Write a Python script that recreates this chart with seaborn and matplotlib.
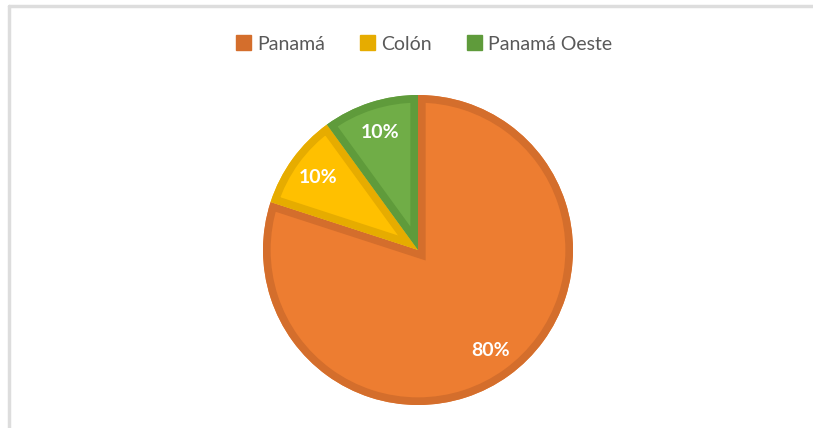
import matplotlib
matplotlib.use("Agg")
import matplotlib.pyplot as plt
import seaborn as sns
from matplotlib.patches import Patch, Wedge

# data
regiones = ["Panamá", "Colón", "Panamá Oeste"]
porcentajes = [80, 10, 10]
colores = ["#ED7D31", "#FFC000", "#70AD47"]
bordes = ["#D46E2C", "#E6AC00", "#5F9B3B"]

sns.set_theme(style="white")
plt.rcParams["font.family"] = ["Lato", "DejaVu Sans"]

W, H = 813, 428
fig = plt.figure(figsize=(W / 100, H / 100), dpi=100)

# pie centre / radius in pixels
cx, cy, R = 418, 250, 155
lim = 1.25
side = 2 * lim * R
ax = fig.add_axes([(cx - side / 2) / W, (H - cy - side / 2) / H, side / W, side / H])

wedges, texts, autotexts = ax.pie(
    porcentajes,
    colors=colores,
    startangle=90,
    counterclock=False,
    autopct="%1.0f%%",
    pctdistance=0.8,
    wedgeprops=dict(linewidth=0),
    textprops=dict(color="white", fontsize=14, fontweight="bold"),
)
# inner border: a thick outline clipped to each slice
for w, b in zip(wedges, bordes):
    edge = Wedge(w.center, w.r, w.theta1, w.theta2, facecolor="none",
                 edgecolor=b, linewidth=11, zorder=w.get_zorder() + 0.1)
    edge.set_clip_path(w)
    ax.add_patch(edge)
for t in autotexts:
    t.set_zorder(5)

ax.set_xlim(-lim, lim)
ax.set_ylim(-lim, lim)
ax.set_aspect("equal")
ax.axis("off")

handles = [Patch(facecolor=c, edgecolor=b) for c, b in zip(bordes, bordes)]
leg = fig.legend(
    handles, regiones,
    loc="center", bbox_to_anchor=(424 / W, 1 - 44 / H),
    ncol=3, frameon=False, fontsize=14,
    handlelength=0.8, handleheight=0.8, handletextpad=0.3, columnspacing=1.8,
)
for t in leg.get_texts():
    t.set_color("#595959")

# chart frame (only top and left visible)
fig.add_artist(plt.Line2D([9 / W, 9 / W], [0, 1 - 6 / H], color="#DDDDDD", lw=2.5))
fig.add_artist(plt.Line2D([9 / W, 1], [1 - 6 / H, 1 - 6 / H], color="#DDDDDD", lw=2.5))

fig.savefig("out.png", dpi=100)
